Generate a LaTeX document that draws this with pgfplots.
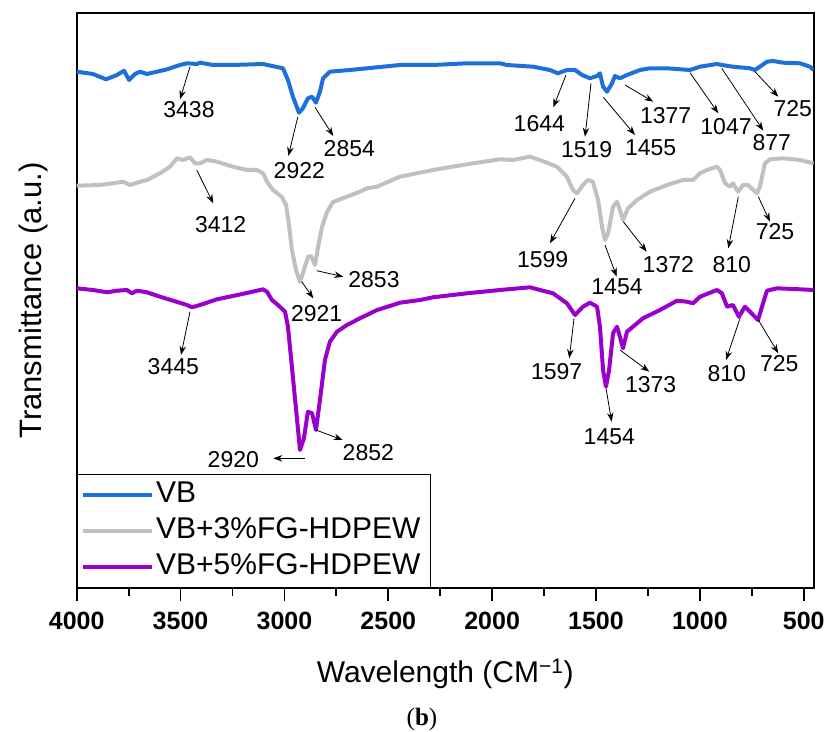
\documentclass[border=0pt]{standalone}
\usepackage{pgfplots}
\pgfplotsset{compat=1.18}
\usetikzlibrary{arrows.meta}
\usepackage{fontspec}
\setmainfont{Liberation Sans}
\newfontfamily\capserif{Liberation Serif}
\definecolor{vbblue}{RGB}{31,111,219}
\definecolor{vbgray}{RGB}{192,192,192}
\definecolor{vbpurple}{RGB}{153,0,204}
\begin{document}
\begin{tikzpicture}
\useasboundingbox (0,0) rectangle (826pt,731pt);
\begin{axis}[
  at={(76.7pt,143.3pt)}, anchor=south west,
  width=737pt, height=574.4pt, scale only axis,
  xmin=452, xmax=4000, x dir=reverse,
  ymin=12.3, ymax=586.7,
  xtick={500,1000,...,4000}, minor x tick num=1,
  ytick=\empty,
  xtick pos=bottom,
  major tick length=13pt, minor tick length=8pt,
  every tick/.append style={line width=1.8pt, black},
  xtick align=outside,
  axis line style={line width=1.8pt},
  /pgf/number format/assume math mode=true,
  /pgf/number format/1000 sep={},
  xticklabel style={font=\bfseries\fontsize{25}{25}\selectfont, anchor=base, yshift=-29pt},
  xlabel={Wavelength (CM\textsuperscript{\char"2212 1})},
  xlabel style={font=\fontsize{30}{36}\selectfont, at={(axis description cs:0.5,-0.1659)}, anchor=base},
  ylabel={Transmittance (a.u.)},
  ylabel style={font=\fontsize{31}{36}\selectfont, at={(axis description cs:-0.0471,0.5)}, anchor=base, rotate=0},
  legend style={at={(0,0)}, anchor=south west, draw=black, line width=1pt, fill=white,
    font=\fontsize{30}{36}\selectfont, inner xsep=4pt, inner ysep=4.5pt,
    nodes={inner sep=2pt, text height=22pt, text depth=6pt}, row sep=4pt},
  legend cell align=left,
  legend image code/.code={\draw[#1] (0pt,0pt) -- (69pt,0pt);},
  every axis plot/.append style={line width=4pt, line join=round},
]
\addplot[vbblue] coordinates {(4000,528.3) (3922,526) (3859,520.7) (3806,525) (3772,529.3) (3748,520) (3719,526) (3695,528.3) (3662,526) (3613,528.3) (3565,530.7) (3503,535) (3469,536.7) (3421,536) (3406,537.3) (3344,535) (3248,535) (3103,536) (3007,531.7) (2983,520) (2959,503.3) (2930,487.3) (2911,491.7) (2887,501.7) (2867,503.3) (2848,497.3) (2829,508.3) (2814,521.7) (2781,528.3) (2684,530) (2602,531.7) (2525,533.3) (2444,535) (2347,535) (2285,535) (2121,536.7) (1962,536.7) (1929,535) (1803,533.3) (1722,530) (1683,526.7) (1640,530) (1601,530) (1567,525) (1529,521.7) (1495,524) (1481,526.7) (1466,513.3) (1447,508.3) (1423,516.7) (1409,524) (1385,521.7) (1351,525) (1288,530) (1240,531.7) (1158,531.7) (1048,530) (999,533.3) (918,536) (894,535) (841,533.3) (759,531.7) (735,530) (711,533.3) (677,538.3) (648,539) (600,537.3) (518,536.7) (470,533.3) (452,530)};
\addlegendentry{VB}
\addplot[vbgray] coordinates {(4000,414.3) (3888,415) (3806,417.3) (3777,418.3) (3743,415) (3710,417.3) (3662,420) (3599,426.7) (3551,433.3) (3517,441.7) (3488,440) (3455,442.7) (3430,436.7) (3406,436.7) (3373,440) (3325,438.3) (3248,433.3) (3180,430) (3132,430) (3103,426.7) (3084,418.3) (3055,410) (3012,403) (2992,395) (2978,375) (2964,350) (2944,330) (2925,318) (2906,330) (2887,343) (2872,344) (2853,335) (2838,353) (2819,373) (2795,388) (2766,398) (2699,403.3) (2636,408.3) (2602,411.7) (2554,413.3) (2444,423.3) (2285,430) (2121,435.7) (1962,440.7) (1900,440) (1818,443.3) (1770,440) (1688,433.3) (1640,423.3) (1611,410) (1592,406.7) (1563,415) (1539,420) (1515,418.3) (1490,400) (1471,373.3) (1457,360) (1442,366.7) (1418,393.3) (1399,398.3) (1385,390) (1370,380) (1346,391.7) (1303,400) (1240,408.3) (1158,415) (1081,420) (1033,420) (999,426.7) (966,430) (918,433.3) (903,430) (879,416.7) (855,413.3) (841,416.7) (816,408.3) (792,415) (768,415) (725,406.7) (711,413.3) (687,436.7) (662,440.7) (600,441.7) (518,440) (452,436.7)};
\addlegendentry{VB+3\%FG-HDPEW}
\addplot[vbpurple] coordinates {(4000,311.7) (3922,310) (3854,307.7) (3806,309.3) (3758,310) (3734,306.7) (3710,309.3) (3662,307.7) (3599,303.3) (3536,299.3) (3469,295) (3445,292.7) (3406,295) (3325,300.7) (3248,304) (3166,307.7) (3103,310.7) (3084,308.3) (3060,300) (3031,295) (2997,288.3) (2983,273.3) (2964,233.3) (2939,180) (2925,150) (2906,161.7) (2887,188.3) (2867,186.7) (2848,170) (2829,200) (2805,240) (2781,258.3) (2747,268.3) (2699,275) (2636,281.7) (2554,290) (2477,295) (2444,297.3) (2347,300) (2285,302.7) (2121,306.7) (1962,310) (1818,312.7) (1770,310) (1707,306.7) (1640,296.7) (1601,285) (1563,293.3) (1529,297.3) (1495,293.3) (1481,273.3) (1466,230) (1452,213.3) (1437,230) (1418,266.7) (1399,273.3) (1385,263.3) (1370,251.7) (1351,268.3) (1322,273.3) (1274,281.7) (1192,290) (1110,299.3) (1062,298.3) (1033,296.7) (999,303.3) (918,310) (894,306.7) (869,293.3) (841,295) (812,283.3) (783,293.3) (759,288.3) (720,280) (696,296.7) (677,309.3) (629,311.7) (518,310.7) (452,310)};
\addlegendentry{VB+5\%FG-HDPEW\hspace*{4pt}}
\end{axis}
\begin{scope}[x=1pt, y=-1pt, shift={(0pt,731pt)}, every node/.style={font=\fontsize{23}{23}\selectfont, inner sep=0pt}, arr/.style={-{Stealth[length=9pt,width=6.5pt]}, line width=0.8pt}]
% VB
\node at (189,110) {3438}; \draw[arr] (190,66.7) -- (180,99.3);
\node at (299.3,170.7) {2922}; \draw[arr] (297.7,117.3) -- (288.3,156);
\node at (349.3,148.3) {2854}; \draw[arr] (315,107.3) -- (333.3,136);
\node at (539.3,124) {1644}; \draw[arr] (566,75) -- (553.3,107.3);
\node at (586.7,150) {1519}; \draw[arr] (591,83.3) -- (585,136.7);
\node at (650.7,147.3) {1455}; \draw[arr] (603.3,97.3) -- (635,135);
\node at (665.7,116) {1377}; \draw[arr] (625,85) -- (653.3,101.7);
\node at (726,126.7) {1047}; \draw[arr] (690,72.7) -- (718.3,113.3);
\node at (771.7,142.7) {877}; \draw[arr] (721.7,68.3) -- (763.3,130.7);
\node at (792.7,108.3) {725}; \draw[arr] (755,71.7) -- (778.3,96.7);
% VB+3%
\node at (220.7,225) {3412}; \draw[arr] (196.7,170) -- (213.3,203.3);
\node at (316.7,313.3) {2921}; \draw[arr] (301.7,281.7) -- (313.3,298.3);
\node at (374,279.3) {2853}; \draw[arr] (316.7,270.7) -- (343.3,276.7);
\node at (542.7,260) {1599}; \draw[arr] (575,198.3) -- (550,243.3);
\node at (617,287) {1454}; \draw[arr] (605,245) -- (616.7,276.7);
\node at (668.3,265) {1372}; \draw[arr] (623.3,221.7) -- (646.7,251.7);
\node at (731.7,265) {810}; \draw[arr] (738.3,196.7) -- (728.3,248.3);
\node at (775,231.7) {725}; \draw[arr] (758.3,196.7) -- (770,221.7);
% VB+5%
\node at (173.3,366.7) {3445}; \draw[arr] (190,311.7) -- (181,355);
\node at (233.3,459.3) {2920}; \draw[arr] (305,458.3) -- (273.3,458.3);
\node at (368.3,452.7) {2852}; \draw[arr] (316,430) -- (342.7,440);
\node at (556.7,371.7) {1597}; \draw[arr] (574,318.3) -- (569.3,358.3);
\node at (609.3,436.7) {1454}; \draw[arr] (606,388.3) -- (611.7,421.7);
\node at (650.7,385) {1373}; \draw[arr] (620,350) -- (649.3,371.7);
\node at (726.7,373.3) {810}; \draw[arr] (740,318.3) -- (726,360);
\node at (779.3,364) {725}; \draw[arr] (758.3,320) -- (778.3,353.3);
% caption
\node[anchor=base, font=\capserif\fontsize{25}{25}\selectfont] at (422,725) {(\textbf{b})};
\end{scope}
\end{tikzpicture}
\end{document}
